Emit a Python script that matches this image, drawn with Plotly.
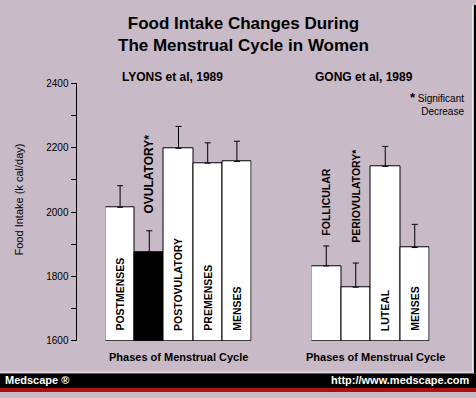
import plotly.graph_objects as go

# ---- data ----
lyons_phases = ["POSTMENSES", "OVULATORY*", "POSTOVULATORY", "PREMENSES", "MENSES"]
lyons_intake = [2015, 1876, 2198, 2152, 2157]
lyons_err = [67, 66, 68, 63, 63]
lyons_colors = ["white", "black", "white", "white", "white"]
lyons_label_pos = ["in", "above", "in", "in", "in"]

gong_phases = ["FOLLICULAR", "PERIOVULATORY*", "LUTEAL", "MENSES"]
gong_intake = [1833, 1767, 2142, 1890]
gong_err = [62, 75, 62, 72]
gong_colors = ["white", "white", "white", "white"]
gong_label_pos = ["above", "above", "in", "in"]

y_min, y_max = 1600, 2400
y_tick_vals = list(range(1600, 2401, 100))
y_tick_text = [str(v) if v % 200 == 0 else "" for v in y_tick_vals]

W, H = 476, 398
BG = "#c8bac6"
FONT = "Liberation Sans, Arial, Helvetica, sans-serif"


def px(x):
    return x / W


def py(y):
    return 1 - y / H


fig = go.Figure()

for phases, vals, errs, cols, xa in [
    (lyons_phases, lyons_intake, lyons_err, lyons_colors, "x"),
    (gong_phases, gong_intake, gong_err, gong_colors, "x2"),
]:
    fig.add_trace(go.Bar(
        x=phases,
        y=[v - y_min for v in vals],
        base=y_min,
        marker=dict(color=cols, line=dict(color="black", width=1)),
        error_y=dict(type="data", symmetric=False, array=errs,
                     arrayminus=[0] * len(errs), color="black",
                     thickness=1, width=3),
        xaxis=xa, yaxis="y", showlegend=False, hoverinfo="skip",
    ))

annotations = []
above_shift = {"OVULATORY*": 15, "FOLLICULAR": 8, "PERIOVULATORY*": 18}
above_size = {"OVULATORY*": 12}
for phases, vals, errs, pos, xr in [
    (lyons_phases, lyons_intake, lyons_err, lyons_label_pos, "x"),
    (gong_phases, gong_intake, gong_err, gong_label_pos, "x2"),
]:
    for p, v, e, m in zip(phases, vals, errs, pos):
        if m == "in":
            annotations.append(dict(
                x=p, y=y_min, xref=xr, yref="y", text="<b>%s</b>" % p,
                textangle=-90, showarrow=False, xanchor="center",
                yanchor="bottom", yshift=8,
                font=dict(family=FONT, size=10.5, color="black")))
        else:
            annotations.append(dict(
                x=p, y=v + e, xref=xr, yref="y", text="<b>%s</b>" % p,
                textangle=-90, showarrow=False, xanchor="center",
                yanchor="bottom", yshift=above_shift.get(p, 10),
                font=dict(family=FONT, size=above_size.get(p, 10.5), color="black")))

# titles and labels
annotations += [
    dict(x=px(244), y=py(30), xref="paper", yref="paper", showarrow=False,
         text="<b>Food Intake Changes During<br>The Menstrual Cycle in Women</b>",
         xanchor="center", yanchor="middle",
         font=dict(family=FONT, size=17, color="black")),
    dict(x=px(172), y=py(74), xref="paper", yref="paper", showarrow=False,
         text="<b>LYONS et al, 1989</b>", xanchor="center", yanchor="middle",
         font=dict(family=FONT, size=12, color="black")),
    dict(x=px(364), y=py(74), xref="paper", yref="paper", showarrow=False,
         text="<b>GONG et al, 1989</b>", xanchor="center", yanchor="middle",
         font=dict(family=FONT, size=12, color="black")),
    dict(x=px(466), y=py(101), xref="paper", yref="paper", showarrow=False,
         text="<b><span style=\"font-size:13px\">*</span></b> Significant<br>Decrease",
         xanchor="right", yanchor="middle",
         align="right", font=dict(family=FONT, size=10, color="black")),
    dict(x=px(19), y=py(200), xref="paper", yref="paper", showarrow=False,
         text="Food Intake (k cal/day)", textangle=-90,
         xanchor="center", yanchor="middle",
         font=dict(family=FONT, size=11, color="black")),
    dict(x=px(178), y=py(362), xref="paper", yref="paper", showarrow=False,
         text="<b>Phases of Menstrual Cycle</b>", xanchor="center", yanchor="middle",
         font=dict(family=FONT, size=11, color="black")),
    dict(x=px(375), y=py(362), xref="paper", yref="paper", showarrow=False,
         text="<b>Phases of Menstrual Cycle</b>", xanchor="center", yanchor="middle",
         font=dict(family=FONT, size=11, color="black")),
    dict(x=px(3), y=py(386), xref="paper", yref="paper", showarrow=False,
         text="<b>Medscape ®</b>", xanchor="left", yanchor="middle",
         font=dict(family=FONT, size=11, color="white")),
    dict(x=px(472), y=py(386), xref="paper", yref="paper", showarrow=False,
         text="<b>http://www.medscape.com</b>", xanchor="right", yanchor="middle",
         font=dict(family=FONT, size=11, color="white")),
]

shapes = [
    dict(type="rect", xref="paper", yref="paper", x0=0, x1=1,
         y0=py(394), y1=py(379), fillcolor="black", line=dict(width=0), layer="below"),
    dict(type="rect", xref="paper", yref="paper", x0=0, x1=1,
         y0=0, y1=py(394), fillcolor="#b01010", line=dict(width=0), layer="below"),
    dict(type="line", xref="paper", yref="paper", x0=0, x1=px(474),
         y0=py(377.5), y1=py(377.5), line=dict(color="#eee6ee", width=1)),
    dict(type="rect", xref="paper", yref="paper", x0=px(474), x1=1,
         y0=py(379), y1=1, fillcolor="black", line=dict(width=0), layer="below"),
    dict(type="line", xref="paper", yref="paper", x0=px(472.5), x1=px(472.5),
         y0=py(377.5), y1=1, line=dict(color="#eee6ee", width=1)),
]

fig.update_layout(
    width=W, height=H,
    margin=dict(l=0, r=0, t=0, b=0),
    paper_bgcolor=BG, plot_bgcolor="rgba(0,0,0,0)",
    bargap=0,
    font=dict(family=FONT, color="black"),
    xaxis=dict(domain=[px(105.5), px(251.5)], range=[-0.5, 4.5],
               showticklabels=False, ticks="", showline=False, showgrid=False,
               zeroline=False, anchor="y", fixedrange=True),
    xaxis2=dict(domain=[px(311.5), px(429.5)], range=[-0.5, 3.5],
                showticklabels=False, ticks="", showline=False, showgrid=False,
                zeroline=False, anchor="y", fixedrange=True),
    yaxis=dict(domain=[py(345.5), py(80.5)], range=[y_min, y_max],
               anchor="free", position=px(75.5),
               tickvals=y_tick_vals, ticktext=y_tick_text,
               ticks="outside", ticklen=5, tickcolor="black", tickwidth=1,
               showline=True, linecolor="black", linewidth=1,
               showgrid=False, zeroline=False,
               tickfont=dict(family=FONT, size=10, color="black"),
               fixedrange=True),
    annotations=annotations,
    shapes=shapes,
)

fig.write_html(
    "out.html",
    config={"displayModeBar": False},
    post_script="document.body.style.margin='0px';document.body.style.overflow='hidden';",
)
